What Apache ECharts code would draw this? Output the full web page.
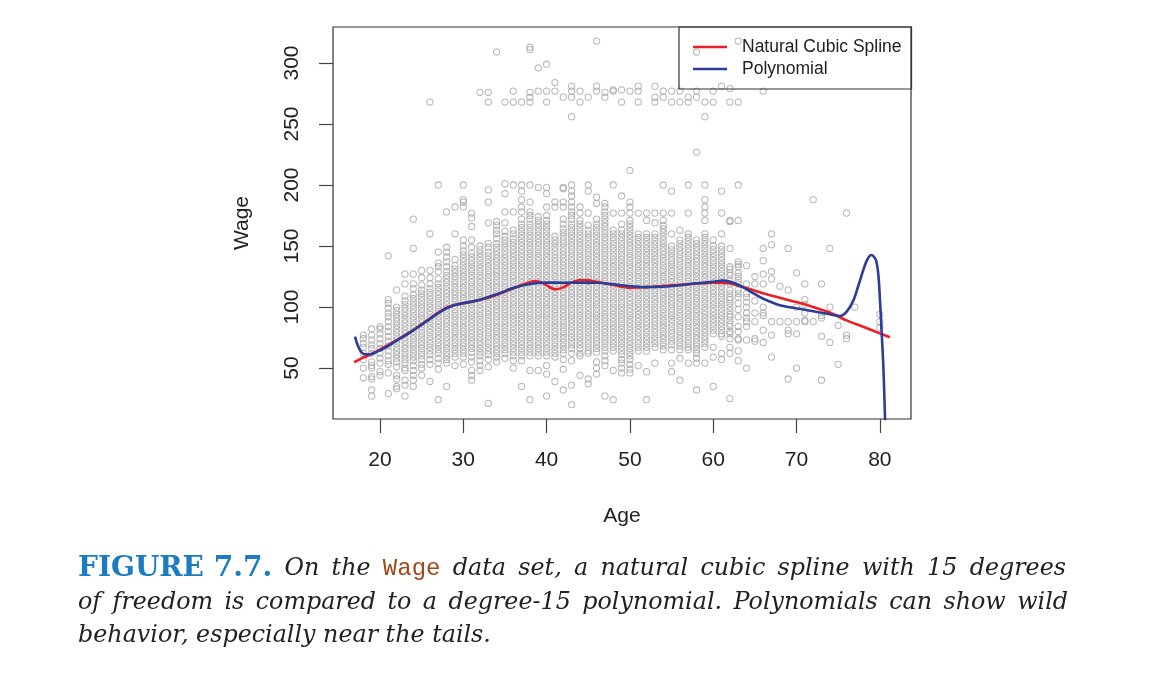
<!DOCTYPE html>
<html>
<head>
<meta charset="utf-8">
<script src="https://cdn.jsdelivr.net/npm/echarts@6.0.0/dist/echarts.min.js"></script>
<style>
  html, body { margin: 0; padding: 0; background: #fff; }
  #chart { width: 1172px; height: 680px; }
</style>
</head>
<body>
<div id="chart"></div>
<script>
// wage readings per age column
const ages = [18, 19, 20, 21, 22, 23, 24, 25, 26, 27, 28, 29, 30, 31, 32, 33, 34, 35, 36, 37, 38, 39, 40,
  41, 42, 43, 44, 45, 46, 47, 48, 49, 50, 51, 52, 53, 54, 55, 56, 57, 58, 59, 60, 61, 62, 63, 64, 65, 66,
  67, 68, 69, 70, 71, 72, 73, 74, 75, 76, 77, 80];
const wagesByAge = [
  [77, 74, 70, 67, 62, 57, 50, 42],
  [82, 77, 73, 69, 66, 62, 55, 52, 50, 43, 41, 32, 27],
  [84, 82, 78, 74, 70, 66, 62, 58, 54, 47, 44],
  [142, 106, 103, 99, 95, 92, 88, 84, 80, 76, 72, 68, 64, 60, 56, 53, 46, 29],
  [114, 100, 97, 94, 91, 88, 85, 82, 79, 76, 73, 70, 67, 64, 61, 58, 55, 51, 44, 41, 35, 33],
  [127, 119, 109, 105, 102, 99, 96, 93, 90, 87, 84, 81, 78, 75, 72, 69, 66, 63, 60, 57, 54, 50, 48, 40, 36, 27],
  [172, 148, 127, 119, 115, 110, 107, 104, 101, 98, 95, 92, 89, 86, 83, 80, 77, 74, 71, 68, 65, 62, 59, 56, 52, 48, 44, 40, 35],
  [130, 124, 118, 114, 111, 108, 105, 102, 99, 96, 93, 90, 87, 84, 81, 78, 75, 72, 69, 66, 63, 60, 57, 53, 50, 44],
  [268, 160, 130, 124, 119, 115, 112, 109, 106, 103, 100, 97, 94, 91, 88, 85, 82, 79, 76, 73, 70, 67, 64, 61, 57, 53, 39],
  [200, 145, 136, 133, 129, 123, 119, 116, 113, 110, 107, 104, 101, 98, 95, 92, 89, 86, 83, 80, 77, 74, 71, 68, 65, 62, 58, 54, 49, 24],
  [178, 149, 145, 141, 137, 133, 129, 126, 123, 120, 117, 114, 111, 108, 105, 102, 99, 96, 93, 90, 87, 84, 81, 78, 75, 72, 69, 66, 63, 60, 57, 54, 35],
  [182, 160, 139, 134, 131, 128, 125, 122, 119, 116, 113, 110, 107, 104, 101, 98, 95, 92, 89, 86, 83, 80, 77, 74, 71, 68, 65, 62, 59, 52],
  [200, 188, 186, 182, 155, 150, 146, 143, 140, 137, 134, 131, 128, 125, 122, 119, 116, 113, 110, 107, 104, 101, 98, 95, 92, 89, 86, 83, 80, 77, 74, 71, 68, 65, 62, 59, 53],
  [177, 173, 166, 155, 149, 144, 141, 138, 135, 132, 129, 126, 123, 120, 117, 114, 111, 108, 105, 102, 99, 96, 93, 90, 87, 84, 81, 78, 75, 72, 69, 66, 63, 59, 55, 48, 44, 40],
  [276, 150, 147, 144, 141, 138, 135, 132, 129, 126, 123, 120, 117, 114, 111, 108, 105, 102, 99, 96, 93, 90, 87, 84, 81, 78, 75, 72, 69, 66, 63, 60, 56, 52, 48],
  [276, 268, 196, 186, 169, 152, 149, 145, 142, 139, 136, 133, 130, 127, 124, 121, 118, 115, 112, 109, 106, 103, 100, 97, 94, 91, 88, 85, 82, 79, 76, 73, 70, 67, 64, 61, 57, 51, 21],
  [309, 170, 167, 163, 160, 156, 152, 149, 146, 143, 140, 137, 134, 131, 128, 125, 122, 119, 116, 113, 110, 107, 104, 101, 98, 95, 92, 89, 86, 83, 80, 77, 74, 71, 68, 65, 62, 59, 55],
  [268, 201, 193, 178, 169, 162, 158, 155, 152, 149, 146, 143, 140, 137, 134, 131, 128, 125, 122, 119, 116, 113, 110, 107, 104, 101, 98, 95, 92, 89, 86, 83, 80, 77, 74, 71, 68, 65, 62, 58],
  [277, 268, 200, 178, 163, 160, 156, 153, 150, 147, 144, 141, 138, 135, 132, 129, 126, 123, 120, 117, 114, 111, 108, 105, 102, 99, 96, 93, 90, 87, 84, 81, 78, 75, 72, 69, 66, 63, 60, 56, 50],
  [268, 200, 195, 188, 182, 178, 172, 168, 165, 162, 159, 156, 153, 150, 147, 144, 141, 138, 135, 132, 129, 126, 123, 120, 117, 114, 111, 108, 105, 102, 99, 96, 93, 90, 87, 84, 81, 78, 75, 72, 69, 66, 63, 60, 56, 35],
  [313, 311, 276, 272, 268, 200, 186, 178, 175, 172, 168, 165, 162, 159, 156, 153, 150, 147, 144, 141, 138, 135, 132, 129, 126, 123, 120, 117, 114, 111, 108, 105, 102, 99, 96, 93, 90, 87, 84, 81, 78, 75, 72, 69, 66, 63, 60, 48, 24],
  [296, 277, 198, 174, 171, 168, 165, 162, 159, 156, 153, 150, 147, 144, 141, 138, 135, 132, 129, 126, 123, 120, 117, 114, 111, 108, 105, 102, 99, 96, 93, 90, 87, 84, 81, 78, 75, 72, 69, 66, 63, 60, 48],
  [299, 277, 268, 198, 193, 182, 175, 171, 168, 165, 162, 159, 156, 153, 150, 147, 144, 141, 138, 135, 132, 129, 126, 123, 120, 117, 114, 111, 108, 105, 102, 99, 96, 93, 90, 87, 84, 81, 78, 75, 72, 69, 66, 63, 60, 52, 45, 27],
  [284, 277, 186, 182, 158, 155, 152, 149, 146, 143, 140, 137, 134, 131, 128, 125, 122, 119, 116, 113, 110, 107, 104, 101, 98, 95, 92, 89, 86, 83, 80, 77, 74, 71, 68, 65, 62, 59, 39],
  [272, 198, 197, 186, 182, 172, 168, 164, 161, 158, 155, 152, 149, 146, 143, 140, 137, 134, 131, 128, 125, 122, 119, 116, 113, 110, 107, 104, 101, 98, 95, 92, 89, 86, 83, 80, 77, 74, 71, 68, 65, 62, 57, 49, 32],
  [281, 277, 272, 256, 200, 195, 191, 186, 182, 178, 175, 172, 168, 165, 162, 159, 156, 153, 150, 147, 144, 141, 138, 135, 132, 129, 126, 123, 120, 117, 114, 111, 108, 105, 102, 99, 96, 93, 90, 87, 84, 81, 78, 75, 72, 69, 66, 62, 56, 36, 20],
  [277, 268, 182, 177, 171, 168, 165, 162, 159, 156, 153, 150, 147, 144, 141, 138, 135, 132, 129, 126, 123, 120, 117, 114, 111, 108, 105, 102, 99, 96, 93, 90, 87, 84, 81, 78, 75, 72, 69, 66, 62, 60, 44],
  [272, 200, 195, 177, 167, 163, 160, 157, 154, 151, 148, 145, 142, 139, 136, 133, 130, 127, 124, 121, 118, 115, 112, 109, 106, 103, 100, 97, 94, 91, 88, 85, 82, 79, 76, 73, 70, 67, 64, 62, 41, 37],
  [318, 281, 277, 190, 185, 172, 168, 165, 162, 159, 156, 153, 150, 147, 144, 141, 138, 135, 132, 129, 126, 123, 120, 117, 114, 111, 108, 105, 102, 99, 96, 93, 90, 87, 84, 81, 78, 75, 72, 69, 66, 63, 55, 50, 45],
  [276, 272, 185, 182, 178, 175, 172, 169, 166, 163, 160, 157, 154, 151, 148, 145, 142, 139, 136, 133, 130, 127, 124, 121, 118, 115, 112, 109, 106, 103, 100, 97, 94, 91, 88, 85, 82, 79, 76, 73, 70, 67, 64, 60, 56, 52, 27],
  [278, 277, 200, 177, 163, 160, 157, 154, 151, 148, 145, 142, 139, 136, 133, 130, 127, 124, 121, 118, 115, 112, 109, 106, 103, 100, 97, 94, 91, 88, 85, 82, 79, 76, 73, 70, 67, 64, 48, 24],
  [278, 268, 191, 177, 168, 163, 160, 157, 154, 151, 148, 145, 142, 139, 136, 133, 130, 127, 124, 121, 118, 115, 112, 109, 106, 103, 100, 97, 94, 91, 88, 85, 82, 79, 76, 73, 70, 67, 64, 61, 57, 54, 50, 46],
  [277, 212, 186, 182, 177, 171, 168, 165, 162, 159, 156, 153, 150, 147, 144, 141, 138, 135, 132, 129, 126, 123, 120, 117, 114, 111, 108, 105, 102, 99, 96, 93, 90, 87, 84, 81, 78, 75, 72, 69, 66, 63, 60, 57, 53, 49, 46],
  [281, 277, 268, 177, 160, 157, 154, 151, 148, 145, 142, 139, 136, 133, 130, 127, 124, 121, 118, 115, 112, 109, 106, 103, 100, 97, 94, 91, 88, 85, 82, 79, 76, 73, 70, 67, 64, 52],
  [177, 171, 160, 157, 154, 151, 148, 145, 142, 139, 136, 133, 130, 127, 124, 121, 118, 115, 112, 109, 106, 103, 100, 97, 94, 91, 88, 85, 82, 79, 76, 73, 70, 67, 64, 47, 24],
  [281, 272, 268, 177, 169, 160, 157, 154, 151, 148, 145, 142, 139, 136, 133, 130, 127, 124, 121, 118, 115, 112, 109, 106, 103, 100, 97, 94, 91, 88, 85, 82, 79, 76, 73, 70, 67, 54],
  [277, 272, 200, 177, 171, 167, 164, 161, 158, 155, 152, 149, 146, 143, 140, 137, 134, 131, 128, 125, 122, 119, 116, 113, 110, 107, 104, 101, 98, 95, 92, 89, 86, 83, 80, 77, 74, 71, 68, 65],
  [277, 268, 195, 177, 160, 150, 147, 144, 141, 138, 135, 132, 129, 126, 123, 120, 117, 114, 111, 108, 105, 102, 99, 96, 93, 90, 87, 84, 81, 78, 75, 72, 69, 65, 54, 47],
  [277, 268, 163, 155, 152, 149, 146, 143, 140, 137, 134, 131, 128, 125, 122, 119, 116, 113, 110, 107, 104, 101, 98, 95, 92, 89, 86, 83, 80, 77, 74, 71, 68, 65, 58, 40],
  [272, 268, 200, 177, 160, 157, 154, 151, 148, 145, 142, 139, 136, 133, 130, 127, 124, 121, 118, 115, 112, 109, 106, 103, 100, 97, 94, 91, 88, 85, 82, 79, 76, 73, 70, 67, 65, 54],
  [309, 277, 272, 227, 155, 152, 149, 146, 143, 140, 137, 134, 131, 128, 125, 122, 119, 116, 113, 110, 107, 104, 101, 98, 95, 92, 89, 86, 83, 80, 77, 74, 71, 68, 65, 62, 58, 54, 32],
  [268, 256, 200, 188, 182, 177, 171, 160, 157, 154, 151, 148, 145, 142, 139, 136, 133, 130, 127, 124, 121, 118, 115, 112, 109, 106, 103, 100, 97, 94, 91, 88, 85, 82, 79, 76, 73, 70, 67, 54],
  [277, 268, 155, 150, 147, 144, 141, 138, 135, 132, 129, 126, 123, 120, 117, 114, 111, 108, 105, 102, 99, 96, 93, 90, 87, 84, 81, 78, 67, 59, 35],
  [281, 195, 177, 160, 150, 147, 144, 141, 138, 135, 132, 129, 126, 123, 120, 117, 114, 111, 108, 105, 102, 99, 96, 93, 90, 87, 84, 81, 78, 76, 62, 57],
  [279, 268, 171, 170, 148, 133, 131, 128, 126, 122, 119, 114, 111, 108, 106, 103, 100, 97, 94, 92, 89, 86, 84, 80, 78, 74, 67, 62, 25],
  [318, 268, 200, 171, 137, 135, 133, 128, 125, 122, 119, 114, 111, 108, 103, 98, 92, 84, 80, 74, 73, 64, 56],
  [134, 119, 111, 108, 104, 100, 95, 91, 88, 84, 73, 50],
  [125, 119, 105, 95, 88, 74, 72],
  [277, 148, 138, 127, 119, 100, 95, 93, 81, 71],
  [160, 151, 129, 123, 88, 77, 59],
  [117, 88],
  [148, 114, 88, 81, 78, 41],
  [128, 100, 88, 78, 50],
  [119, 106, 102, 95, 89, 88],
  [188, 88],
  [119, 93, 91, 76, 40],
  [148, 100, 71],
  [85, 53],
  [177, 77, 74],
  [100],
  [94, 88, 83]
];

// fitted curves
const splineAge = [16.9, 18, 19, 20, 21, 22, 23, 24, 25, 26, 27, 28, 29, 30, 32, 34, 36, 37.5, 38.6, 39.6, 40.3,
  41, 42, 43, 44, 45, 46, 48, 50, 52, 54, 56, 58, 60, 62, 64, 66, 68, 70, 72, 74, 76, 78, 80, 81.2];
const splineWage = [54.7, 58.5, 61.5, 65.3, 69, 72.9, 77, 81, 86, 90.5, 95.5, 99.5, 101.8, 103, 105.7, 109.8, 115.3,
  119.2, 121.3, 119.4, 116.5, 114.5, 116.1, 120, 122.1, 121.8, 120.7, 118, 115.8, 116.2, 117.2, 118.3, 119.3,
  119.9, 119.2, 115.5, 111.2, 107.5, 104, 100, 95.5, 89, 83.8, 78.4, 75.2];
const polyAge = [17, 17.3, 17.7, 18.2, 19, 20, 21, 22, 23, 24, 25, 26, 27, 28, 29, 30, 32, 34, 36, 38, 40, 42, 44,
  46, 48, 50, 52, 54, 56, 58, 60, 61.2, 62.4, 63.6, 65, 66, 68, 70, 72, 74, 75.2, 76, 76.8, 77.4, 78, 78.5, 79,
  79.5, 79.8, 80, 80.2, 80.4, 80.55, 80.7];
const polyWage = [75.7, 69, 63.5, 61.2, 61.5, 64.5, 68.2, 72.4, 76.5, 80.8, 85.5, 90.3, 95, 99, 101.6, 103, 106,
  110.4, 115.5, 118.9, 120, 119.9, 120, 119.9, 118.6, 117.2, 116.3, 116.6, 117.8, 119.4, 120.7, 121.6, 119.9,
  116.1, 110.5, 106.8, 101.5, 98.9, 96.5, 94, 92.6, 96, 105, 117, 130, 139, 142.6, 139, 128, 108, 81, 55, 25, -10];

const xTicks = [20, 30, 40, 50, 60, 70, 80];
const yTicks = [50, 100, 150, 200, 250, 300];

const points = [];
ages.forEach((a, i) => {
  wagesByAge[i].forEach(w => points.push([a, w]));
});
const spline = splineAge.map((a, i) => [a, splineWage[i]]);
const poly = polyAge.map((a, i) => [a, polyWage[i]]);

const sans = '"Liberation Sans", Arial, Helvetica, sans-serif';
const ink = '#222';

// caption, justified like the book
const ctx = document.createElement('canvas').getContext('2d');
const fBold = 'bold 28px "DejaVu Serif"';
const fItal = 'italic 23.8px "DejaVu Serif"';
const fMono = '24px "Liberation Mono"';
function word(text, font, fill) { return { text, font, fill: fill || '#222' }; }
const line1 = [word('FIGURE 7.7.', fBold, '#1c7cc1'), word('On', fItal), word('the', fItal), word('Wage', fMono, '#a0471c'),
  word('data', fItal), word('set,', fItal), word('a', fItal), word('natural', fItal), word('cubic', fItal),
  word('spline', fItal), word('with', fItal), word('15', fItal), word('degrees', fItal)];
const line2 = ['of', 'freedom', 'is', 'compared', 'to', 'a', 'degree-15', 'polynomial.', 'Polynomials', 'can', 'show', 'wild']
  .map(t => word(t, fItal));
const line3 = [word('behavior, especially near the tails.', fItal)];
const captionEls = [];
function placeLine(words, y, x0, x1) {
  const widths = words.map(w => { ctx.font = w.font; return ctx.measureText(w.text).width; });
  const total = widths.reduce((s, v) => s + v, 0);
  const gap = words.length > 1 ? (x1 - x0 - total) / (words.length - 1) : 0;
  let x = x0;
  words.forEach((w, i) => {
    captionEls.push({
      type: 'text', x: x, y: y,
      style: { text: w.text, font: w.font, fill: w.fill, textVerticalAlign: 'middle', textAlign: 'left' }
    });
    x += widths[i] + gap;
  });
}
placeLine(line1, 569, 78, 1066);
placeLine(line2, 603, 78, 1068);
placeLine(line3, 636, 78, 0);

const chart = echarts.init(document.getElementById('chart'));
chart.setOption({
  backgroundColor: '#fff',
  animation: false,
  textStyle: { fontFamily: sans },
  grid: {
    left: 333, top: 27, width: 578, height: 392,
    show: true, borderColor: '#333', borderWidth: 1.2, backgroundColor: 'transparent',
    outerBoundsMode: 'none'
  },
  legend: {
    data: ['Natural Cubic Spline', 'Polynomial'],
    orient: 'vertical',
    left: 679, top: 27,
    padding: [11, 10, 11, 14],
    icon: 'rect',
    itemWidth: 34, itemHeight: 2.6, itemGap: 4,
    borderColor: '#333', borderWidth: 1.2, borderRadius: 0,
    textStyle: { fontSize: 17.5, color: ink, fontFamily: sans, lineHeight: 17, padding: [0, 0, 0, 10] }
  },
  xAxis: {
    type: 'value', min: 14.36, max: 83.74,
    name: 'Age', nameLocation: 'middle', nameGap: 87,
    nameTextStyle: { fontSize: 21, color: ink, fontFamily: sans },
    axisLine: { show: false },
    axisTick: { show: true, length: 14, customValues: xTicks, lineStyle: { color: '#444', width: 1.2 } },
    axisLabel: { customValues: xTicks, margin: 31, fontSize: 21, color: ink, fontFamily: sans },
    splitLine: { show: false }
  },
  yAxis: {
    type: 'value', min: 8.2, max: 329.5,
    name: 'Wage', nameLocation: 'middle', nameGap: 80, nameRotate: 90,
    nameTextStyle: { fontSize: 21, color: ink, fontFamily: sans },
    axisLine: { show: false },
    axisTick: { show: true, length: 14, customValues: yTicks, lineStyle: { color: '#444', width: 1.2 } },
    axisLabel: { customValues: yTicks, margin: 30, rotate: 90, fontSize: 21, color: ink, fontFamily: sans },
    splitLine: { show: false }
  },
  series: [
    {
      name: 'Wage', type: 'scatter', data: points,
      symbol: 'circle', symbolSize: 6.2, large: false, progressive: 0,
      itemStyle: { color: 'rgba(0,0,0,0)', borderColor: '#a6a6a6', borderWidth: 1.05 },
      emphasis: { disabled: true }, silent: true
    },
    {
      name: 'Natural Cubic Spline', type: 'line', data: spline, smooth: 0.3,
      symbol: 'none', lineStyle: { color: '#ec1f26', width: 2.6 }, itemStyle: { color: '#ec1f26' }, z: 3
    },
    {
      name: 'Polynomial', type: 'line', data: poly, smooth: 0.3, clip: true,
      symbol: 'none', lineStyle: { color: '#2c3d98', width: 2.6 }, itemStyle: { color: '#2c3d98' }, z: 4
    }
  ],
  graphic: captionEls
});
</script>
</body>
</html>
